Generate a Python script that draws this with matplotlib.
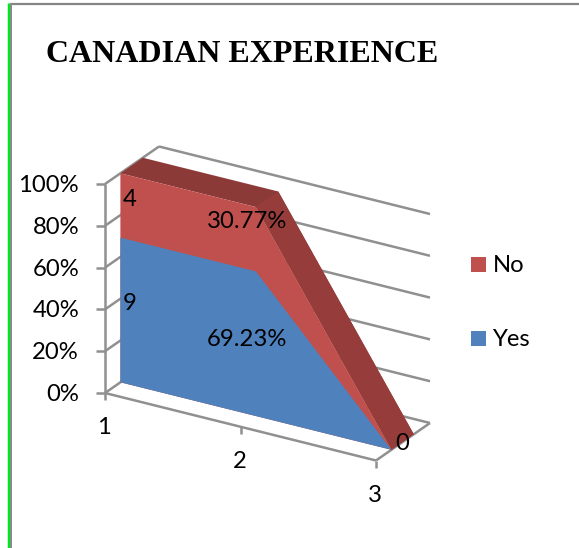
import matplotlib
matplotlib.use('Agg')
import matplotlib.pyplot as plt

# chart values
categories = ['1', '2', '3']
yes_vals = [9, 69.23, 0]
no_vals = [4, 30.77, 0]
yes_labels = ['9', '69.23%', '']
no_labels = ['4', '30.77%', '0']
pct_ticks = [0, 20, 40, 60, 80, 100]

BLUE = '#4F81BD'
RED = '#C0504D'
DARK = '#8C3A38'
DARK2 = '#963D3B'
GRID = '#909090'
FONT = 'Lato'
FS = 17.2

# fake 3d: pixel position of the floor corner and the three box directions
ORIGIN = (105, 393)
RUN = (271, 67.5)     # from first to last category
RISE = 209            # 0 to 100%
DEPTH = (54, -37.5)   # front to back
S0, S1 = 0.285, 0.70  # front and back of the area series


def share(a, b):
    t = a + b
    return (100 * a / t, 100.0) if t else (0.0, 0.0)


def proj(cat, pct, d=0.0):
    u = cat / (len(categories) - 1)
    return (ORIGIN[0] + u * RUN[0] + d * DEPTH[0],
            ORIGIN[1] + u * RUN[1] + d * DEPTH[1] - pct / 100 * RISE)


def line(ax, p, q, lw=1.8):
    ax.plot([p[0], q[0]], [p[1], q[1]], color=GRID, lw=lw, solid_capstyle='butt', zorder=1)


def face(ax, pts, color, z):
    ax.fill([p[0] for p in pts], [p[1] for p in pts], color=color, lw=0, zorder=z)


def label(ax, x, y, s, ha='center'):
    ax.text(x, y, s, fontsize=FS, family=FONT, ha=ha, va='center', color='black', zorder=6)


fig = plt.figure(figsize=(5.79, 5.48), dpi=100)
ax = fig.add_axes([0, 0, 1, 1])
ax.set_xlim(0, 579)
ax.set_ylim(548, 0)
ax.axis('off')

# frame of the page
ax.plot([10, 579], [3.5, 3.5], color='#858585', lw=1.6, solid_capstyle='butt', zorder=1)
ax.plot([8.5, 8.5], [3, 548], color='#00E81E', lw=2.5, solid_capstyle='butt', zorder=1)
ax.plot([11, 11], [3, 548], color='#8A8A8A', lw=1.4, solid_capstyle='butt', zorder=1)

# walls, floor and ticks
n = len(categories) - 1
for p in pct_ticks:
    line(ax, proj(0, p, 1), proj(n, p, 1))
    line(ax, proj(0, p, 0), proj(0, p, 1))
    t = proj(0, p, 0)
    line(ax, (t[0] - 9, t[1]), t)
    label(ax, t[0] - 26, t[1] + 1.5, f'{p}%', ha='right')
line(ax, proj(0, 0), proj(0, 100))
line(ax, proj(0, 0), proj(n, 0))
line(ax, proj(n, 0), proj(n, 0, 1))
for i, c in enumerate(categories):
    a = proj(i, 0)
    line(ax, a, (a[0], a[1] + 7))
    label(ax, a[0] - 1, a[1] + 35, c)

# stacked areas
tops_yes = [share(a, b)[0] for a, b in zip(yes_vals, no_vals)]
tops_no = [share(a, b)[1] for a, b in zip(yes_vals, no_vals)]
face(ax, [proj(i, tops_no[i], S0) for i in range(3)] + [proj(i, tops_no[i], S1) for i in (2, 1, 0)], DARK, 2)
face(ax, [proj(1, tops_no[1], S0), proj(2, tops_no[2], S0), proj(2, tops_no[2], S1), proj(1, tops_no[1], S1)], DARK2, 2)
face(ax, [proj(i, 0, S0) for i in range(3)] + [proj(i, tops_no[i], S0) for i in (2, 1, 0)], RED, 3)
face(ax, [proj(i, 0, S0) for i in range(3)] + [proj(i, tops_yes[i], S0) for i in (2, 1, 0)], BLUE, 4)

# data labels
label(ax, 130, 200, no_labels[0])
label(ax, 130, 304, yes_labels[0])
label(ax, 247, 221, no_labels[1])
label(ax, 247, 339, yes_labels[1])
label(ax, 402, 443, no_labels[2])

# legend
for y, col, name in [(264.5, RED, 'No'), (338.5, BLUE, 'Yes')]:
    face(ax, [(471, y - 7.5), (486, y - 7.5), (486, y + 7.5), (471, y + 7.5)], col, 3)
    label(ax, 492.5, y + 1, name, ha='left')

ax.text(46, 54.5, 'CANADIAN EXPERIENCE', fontsize=23, family='Liberation Serif', weight='bold',
        ha='left', va='center')

fig.savefig('out.png', dpi=100)
